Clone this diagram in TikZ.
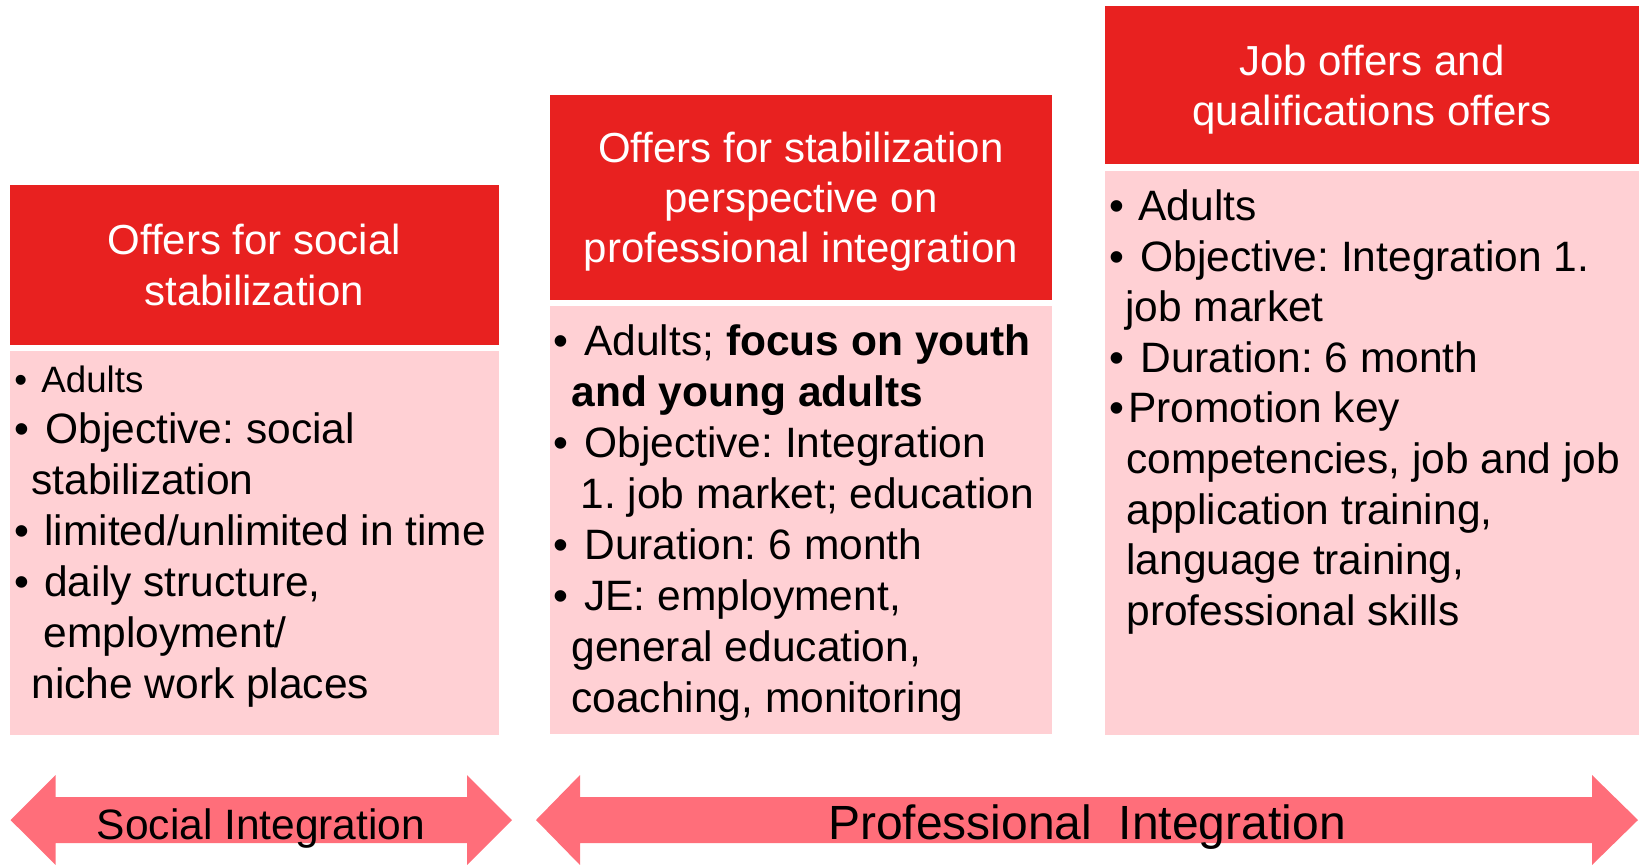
\documentclass[tikz,border=0pt]{standalone}
\usepackage{fontspec}
\setmainfont{Liberation Sans}
\frenchspacing
\definecolor{headred}{RGB}{232,33,32}
\definecolor{bodypink}{RGB}{255,208,212}
\definecolor{bandred}{RGB}{255,110,122}
\tikzset{
  head/.style={fill=headred,text=white,inner sep=0pt,outer sep=0pt,anchor=north west,align=center,text depth=-2.6pt},
  body/.style={fill=bodypink,inner sep=0pt,outer sep=0pt,anchor=north west},
  list/.style={inner sep=0pt,anchor=north west,align=left},
  band/.style={fill=bandred}
}
\newcommand{\bul}[1]{\makebox[#1][l]{•}}
\newcommand{\firstline}{\rule{0pt}{16pt}}

\begin{document}
\begin{tikzpicture}[x=0.5pt,y=-0.5pt]
\useasboundingbox (0,0) rectangle (1645,864);
% headers
\node[head,font=\fontsize{21}{25.5}\selectfont,minimum width=244.75pt,minimum height=80pt] (h1) at (9.5,185) {Offers for social\\stabilization};
\node[head,font=\fontsize{21}{25}\selectfont,minimum width=251pt,minimum height=102.5pt] (h2) at (550,95) {Offers for stabilization\\perspective on\\professional integration};
\node[head,font=\fontsize{21}{25}\selectfont,minimum width=267pt,minimum height=79pt] (h3) at (1105,6) {Job offers and\\qualifications offers};
% pink boxes
\node[body,minimum width=244.75pt,minimum height=192pt] (b1) at (9.5,351) {};
\node[body,minimum width=251pt,minimum height=214pt] (b2) at (550,306) {};
\node[body,minimum width=267pt,minimum height=282pt] (b3) at (1105,171) {};
% lists
\node[list,font=\fontsize{21.25}{25.5}\selectfont] (l1) at (14,360) {\firstline{\fontsize{18.35}{22}\selectfont\bul{13.5pt}Adults}\\
  \bul{15.5pt}Objective: social\\
  \hspace*{8.5pt}stabilization\\
  \bul{15pt}limited/unlimited in time\\
  \bul{15pt}daily structure,\\
  \hspace*{14.5pt}employment/\\
  \hspace*{8.5pt}niche work places};
\node[list,font=\fontsize{21.25}{25.5}\selectfont] (l2) at (553,323) {\firstline\bul{15.5pt}Adults; \textbf{focus on youth}\\
  \hspace*{9pt}\textbf{and young adults}\\
  \bul{15.5pt}Objective: Integration\\
  \hspace*{13.5pt}1. job market; education\\
  \bul{15.5pt}Duration: 6 month\\
  \bul{15.5pt}JE: employment,\\
  \hspace*{9pt}general education,\\
  \hspace*{9pt}coaching, monitoring};
\node[list,font=\fontsize{21.25}{25.3}\selectfont] (l3) at (1109,188) {\firstline\bul{14.5pt}Adults\\
  \bul{15.5pt}Objective: Integration 1.\\
  \hspace*{8pt}job market\\
  \bul{15.5pt}Duration: 6 month\\
  \bul{9.5pt}Promotion key\\
  \hspace*{8.5pt}competencies, job and job\\
  \hspace*{8.5pt}application training,\\
  \hspace*{8.5pt}language training,\\
  \hspace*{8.5pt}professional skills};
% double arrows
\foreach \a/\b/\c/\d in {10.5/55.6/467/512, 536/580/1592/1638}
  \fill[band] (\a,820) -- (\b,775) -- (\b,797) -- (\c,797) -- (\c,775) -- (\d,820)
    -- (\c,865) -- (\c,843) -- (\b,843) -- (\b,865) -- cycle;
\node[font=\fontsize{21.25}{25}\selectfont,anchor=base] (si) at (261,839) {Social Integration};
\node[font=\fontsize{24}{28}\selectfont,anchor=base] (pi) at (1087,839) {Professional\ \ Integration};
\end{tikzpicture}
\end{document}
